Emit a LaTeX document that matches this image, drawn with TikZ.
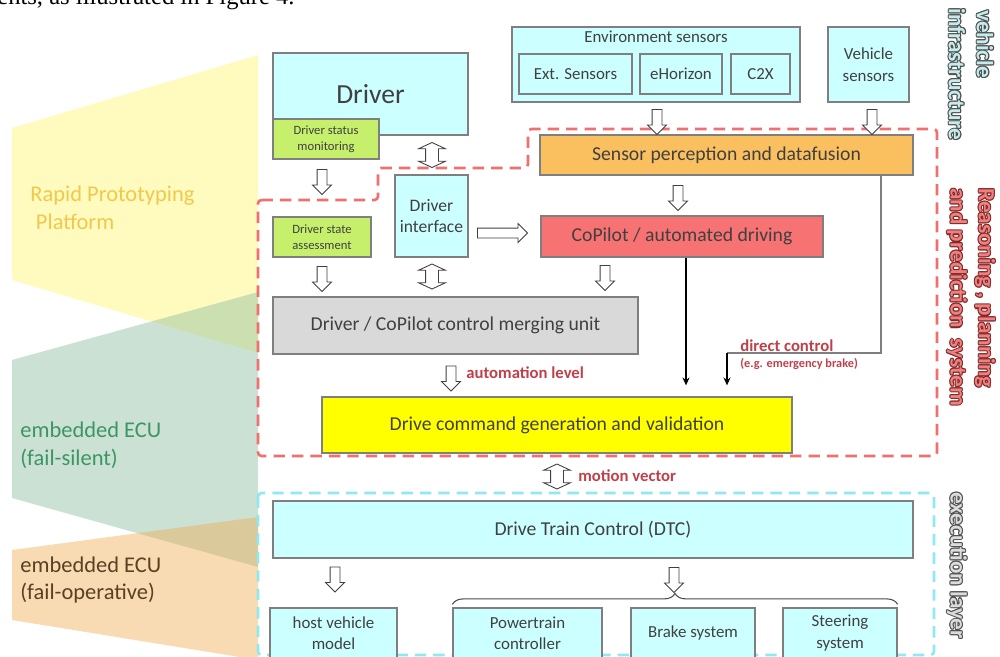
\documentclass[tikz,border=0pt]{standalone}
\usepackage{fontspec}
\setmainfont{Carlito}
\newfontfamily\paperfont{Liberation Serif}
\usetikzlibrary{shapes.arrows, arrows.meta, positioning, calc, decorations.pathreplacing}
\definecolor{boxCyan}{HTML}{CCFFFF}
\definecolor{boxGreen}{HTML}{C6F06C}
\definecolor{boxOrange}{HTML}{FAC060}
\definecolor{boxRed}{HTML}{F77272}
\definecolor{boxGray}{HTML}{D9D9D9}
\definecolor{boxYellow}{HTML}{FFFF00}
\definecolor{edgeGray}{HTML}{7F7F7F}
\definecolor{inkDark}{HTML}{404040}
\definecolor{labelRed}{HTML}{C0404A}
\definecolor{dashRed}{HTML}{F07070}
\definecolor{dashCyan}{HTML}{90E8F0}
\definecolor{bandGreen}{HTML}{8CBEA0}
\definecolor{bandOrange}{HTML}{F2A743}
\definecolor{textGold}{HTML}{F2C84B}
\definecolor{textGreen}{HTML}{3C9664}
\definecolor{textBrown}{HTML}{5A4123}
\definecolor{sideCyan}{HTML}{C4ECEC}
\definecolor{sideRed}{HTML}{F08080}
\definecolor{sideGray}{HTML}{DCDCDC}
\definecolor{sideInk}{HTML}{505050}
\definecolor{sideInkRed}{HTML}{802828}
\tikzset{
  box/.style={draw=edgeGray, line width=0.7pt, fill=#1, inner sep=1pt, align=center,
              text=inkDark, font=\fontsize{11.2}{13.4}\selectfont},
  box/.default=boxCyan,
  smalltext/.style={font=\fontsize{9.6}{12.2}\selectfont},
  tinytext/.style={font=\fontsize{7.2}{9.1}\selectfont},
  hollowdown/.style={single arrow, draw=black!75, fill=white, line width=0.5pt, inner sep=0.09cm,
                     single arrow head extend=0.09cm, minimum height=#1, shape border rotate=270},
  hollowdown/.default=0.5cm,
  hollowboth/.style={double arrow, draw=black!75, fill=white, line width=0.5pt, inner sep=0.12cm,
                     double arrow head extend=0.14cm, double arrow tip angle=130,
                     minimum height=0.5cm, shape border rotate=90},
  link/.style={-{Stealth[length=4.5pt, width=4pt]}, line width=0.8pt},
  region/.style={dash pattern=on 6.5pt off 4pt, line width=1.5pt, rounded corners=2pt},
  note/.style={text=labelRed, font=\bfseries\fontsize{9.5}{11}\selectfont, inner sep=0pt, anchor=west},
  band/.style={font=\fontsize{12.8}{15.8}\selectfont, align=left, anchor=west, inner sep=0pt},
  side/.style={rotate=-90, anchor=west, inner sep=0pt, font=\bfseries\fontsize{13.2}{16}\selectfont},
}
% outlined side caption: position, fill colour, outline colour, text
\newcommand{\outlinedlabel}[4]{%
  \foreach \dx/\dy in {0.6/0, -0.6/0, 0/0.6, 0/-0.6, 0.45/0.45, -0.45/0.45, 0.45/-0.45, -0.45/-0.45}
    \node[side, text=#3] at ($(#1)+(\dx pt,\dy pt)$) {#4};
  \node[side, text=#2] at (#1) {#4};
}
\begin{document}
\begin{tikzpicture}[x=0.02cm, y=-0.02cm]
\useasboundingbox (0,0) rectangle (1000,656);
\fill[white] (0,0) rectangle (1000,656);
\node[anchor=base west, inner sep=0pt, font=\paperfont\fontsize{14}{16}\selectfont] (papertext) at (-3,4) {ents, as illustrated in Figure 4.};

% platform bands
\fill[yellow, fill opacity=0.25] (12,128) -- (258,55) -- (258,353) -- (12,280) -- cycle;
\fill[bandGreen, fill opacity=0.45] (12,360) -- (258,292) -- (258,567) -- (12,498) -- cycle;
\fill[bandOrange, fill opacity=0.4] (12,550) -- (258,517) -- (258,660) -- (12,620) -- cycle;
\node[band, text=textGold] (rpp) at (30,207.5) {Rapid Prototyping\\\hspace*{0.25em}Platform};
\node[band, text=textGreen] (ecusilent) at (20,445) {embedded ECU\\(fail-silent)};
\node[band, text=textBrown] (ecuop) at (20,580) {embedded ECU\\(fail-operative)};

% layers
\draw[region, dashRed] (258,200) -- (378,200) -- (378,168) -- (528,168) -- (528,129)
      -- (937,129) -- (937,456) -- (258,456) -- cycle;
\draw[region, dashCyan] (258,493) rectangle (934,655);

% sensors
\node[box, minimum width=5.76cm, minimum height=1.5cm] (env) at (656,64.5) {};
\node[smalltext, text=inkDark, inner sep=0pt] (envtitle) at (656,37) {Environment sensors};
\node[box, smalltext, minimum width=2.26cm, minimum height=0.8cm] (ext) at (575.5,74) {Ext. Sensors};
\node[box, smalltext, minimum width=1.64cm, minimum height=0.8cm] (ehor) at (681,74) {eHorizon};
\node[box, smalltext, minimum width=1.18cm, minimum height=0.8cm] (ctx) at (760.5,74) {C2X};
\node[box, smalltext, minimum width=1.62cm, minimum height=1.5cm] (vehsens) at (868.5,64.5) {Vehicle\\sensors};

% driver side
\node[box, font=\fontsize{15.7}{18}\selectfont, minimum width=3.9cm, minimum height=1.64cm] (driver) at (370.5,94) {Driver};
\node[box=boxGreen, tinytext, minimum width=2.12cm, minimum height=0.8cm] (dsm) at (326,139) {Driver status\\monitoring};
\node[box, font=\fontsize{10}{12}\selectfont, minimum width=1.46cm, minimum height=1.64cm] (dint) at (431.5,216) {Driver\\interface};
\node[box=boxGreen, tinytext, minimum width=1.96cm, minimum height=0.8cm] (dsa) at (322,237) {Driver state\\assessment};

% reasoning
\node[box=boxOrange, minimum width=7.46cm, minimum height=0.8cm] (fusion) at (726.5,155) {Sensor perception and datafusion};
\node[box=boxRed, minimum width=5.64cm, minimum height=0.82cm] (copilot) at (682,236.5) {CoPilot / automated driving};
\node[box=boxGray, minimum width=7.3cm, minimum height=1.14cm] (merge) at (455.5,325.5) {Driver / CoPilot control merging unit};
\node[box=boxYellow, minimum width=9.4cm, minimum height=1.12cm] (cmd) at (557,425) {Drive command generation and validation};

% execution
\node[box, minimum width=12.8cm, minimum height=1.14cm] (dtc) at (593,529.5) {Drive Train Control (DTC)};
\node[box, smalltext, minimum width=2.54cm, minimum height=1cm] (host) at (333.5,633) {host vehicle\\model};
\node[box, smalltext, minimum width=2.98cm, minimum height=1cm] (ptc) at (527.5,633) {Powertrain\\controller};
\node[box, smalltext, minimum width=2.48cm, minimum height=1cm] (brake) at (693,633) {Brake system};
\node[box, smalltext, minimum width=2.28cm, minimum height=1cm] (steer) at (840,633) {Steering\\system};

% hollow arrows
\node[hollowdown] (envin) at (657,119.5) {};
\node[hollowdown] (vehin) at (872,119.5) {};
\node[hollowdown] (fusout) at (678,195.5) {};
\node[hollowdown] (dsmout) at (322,179.5) {};
\node[hollowboth] (drvlink) at (432,155) {};
\node[hollowdown=1cm, shape border rotate=0] (dintout) at (500,233) {};
\node[hollowdown] (dsaout) at (322,276.5) {};
\node[hollowboth] (dintmerge) at (432,276.5) {};
\node[hollowdown] (copout) at (605,275.5) {};
\node[hollowdown] (autoarrow) at (451,376) {};
\node[hollowboth] (motion) at (557,476.5) {};
\node[hollowdown] (hostin) at (335,577) {};
\node[hollowdown] (bracein) at (674,577.5) {};

% direct links
\coordinate (cpx) at (686,0);
\coordinate (fusx) at (881,0);
\coordinate (dccorner) at (727,353);
\draw[link, shorten >=0.22cm] (copilot.south -| cpx) -- (cmd.north -| cpx);
\draw[edgeGray, line width=0.7pt] (fusion.south -| fusx) |- (dccorner);
\draw[link, shorten >=0.22cm] (dccorner) -- (cmd.north -| dccorner);
\draw[decorate, decoration={brace, amplitude=0.22cm}, black!70, line width=0.6pt]
      ([yshift=0.06cm]ptc.north west) -- ([yshift=0.06cm]steer.north east);

% labels
\node[note] (autolbl) at (466,373) {automation level};
\node[note] (dclbl) at (740,346) {direct control};
\node[note, font=\bfseries\fontsize{7}{8}\selectfont] (dcnote) at (740,364) {(e.g. emergency brake)};
\node[note] (mvlbl) at (578,476) {motion vector};

% side captions
\outlinedlabel{985,10}{sideCyan}{sideInk}{vehicle}
\outlinedlabel{957,8}{sideCyan}{sideInk}{infrastructure}
\outlinedlabel{985,188}{sideRed}{sideInkRed}{Reasoning , planning}
\outlinedlabel{957,188}{sideRed}{sideInkRed}{and prediction \ system}
\outlinedlabel{957,492}{sideGray}{sideInk}{execution layer}
\end{tikzpicture}
\end{document}
